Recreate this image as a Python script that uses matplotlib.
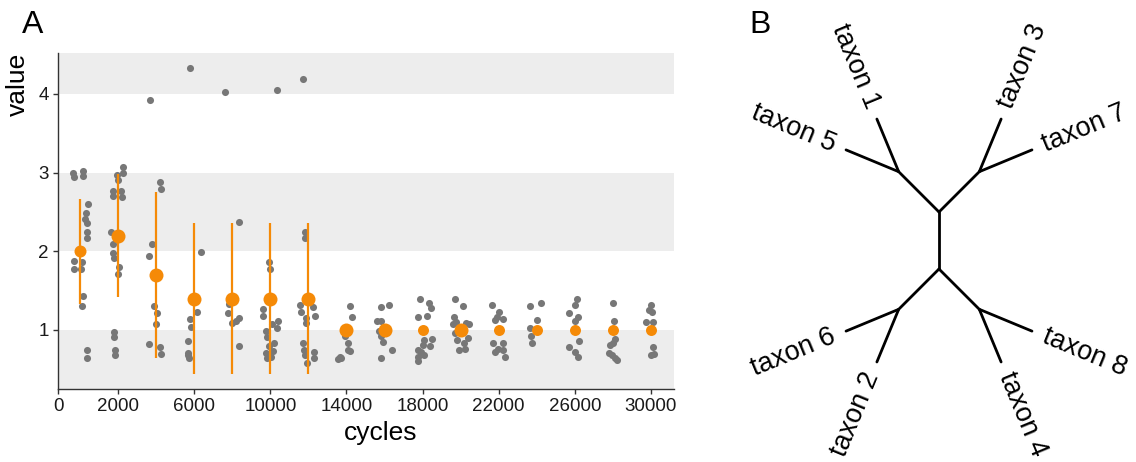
import numpy as np
import matplotlib
matplotlib.use("Agg")
import matplotlib.pyplot as plt

plt.rcParams['font.family'] = ['Liberation Sans', 'DejaVu Sans']

# ---- panel A data ----
cycles = [0, 2000, 4000, 6000, 8000, 10000, 12000, 14000, 16000,
          18000, 20000, 22000, 24000, 26000, 28000, 30000]
tick_labels = ["0", "2000", "6000", "10000", "14000", "18000", "22000", "26000", "30000"]
tick_values = [2000, 6000, 10000, 14000, 18000, 22000, 26000, 30000]

means = [2.0, 2.2, 1.7, 1.4, 1.4, 1.4, 1.4, 1.0, 1.0, 1.0, 1.0, 1.0, 1.0, 1.0, 1.0, 1.0]
err_low = [1.33, 1.42, 0.64, 0.44, 0.44, 0.44, 0.44] + [np.nan] * 9
err_high = [2.67, 2.98, 2.75, 2.36, 2.36, 2.36, 2.36] + [np.nan] * 9
mean_weight = [12, 14, 14, 14, 14, 14, 14, 14, 14, 11, 14, 11, 11, 11, 11, 11]

# replicate values per group, with the horizontal jitter (in cycles)
rep_values = [
    [2.99, 2.94, 3.02, 2.96, 2.60, 2.49, 2.41, 2.36, 2.25, 2.17, 1.88, 1.78, 1.86, 1.78, 1.43, 1.30, 0.74, 0.65],
    [3.07, 3.00, 2.97, 2.90, 2.77, 2.70, 2.77, 2.69, 2.25, 2.09, 1.98, 1.91, 1.80, 1.71, 0.98, 0.91, 0.75, 0.68],
    [3.92, 2.88, 2.79, 2.09, 1.94, 1.31, 1.22, 1.07, 0.82, 0.79, 0.69],
    [4.33, 1.99, 1.23, 1.14, 1.04, 0.86, 0.71, 0.68, 0.64],
    [4.02, 2.37, 1.33, 1.22, 1.09, 1.11, 1.15, 0.80],
    [4.05, 1.86, 1.78, 1.27, 1.18, 1.12, 1.07, 1.03, 0.99, 0.91, 0.83, 0.80, 0.71, 0.73, 0.64, 0.66],
    [4.19, 2.24, 2.17, 1.32, 1.23, 1.29, 1.18, 1.15, 1.09, 0.84, 0.75, 0.68, 0.72, 0.65, 0.58],
    [1.30, 1.16, 0.92, 0.84, 0.75, 0.73, 0.66, 0.64, 0.63],
    [1.29, 1.32, 1.12, 1.12, 0.99, 0.92, 0.85, 0.75, 0.65],
    [1.39, 1.34, 1.28, 1.18, 1.16, 0.87, 0.89, 0.81, 0.80, 0.75, 0.72, 0.66, 0.61, 0.68],
    [1.39, 1.30, 1.17, 1.10, 1.09, 1.08, 1.08, 0.96, 0.87, 0.90, 0.83, 0.75, 0.76],
    [1.32, 1.23, 1.16, 1.13, 1.14, 0.83, 0.84, 0.72, 0.74, 0.66, 0.76],
    [1.30, 1.34, 1.13, 1.03, 0.92, 0.83],
    [1.39, 1.32, 1.22, 1.17, 1.11, 0.86, 0.78, 0.72, 0.66],
    [1.34, 1.11, 0.89, 0.83, 0.81, 0.71, 0.68, 0.65, 0.62],
    [1.32, 1.23, 1.25, 1.10, 1.10, 0.79, 0.68, 0.70],
]
rep_jitter = [
    [-370, -315, 160, 160, 420, 315, 265, 370, 370, 370, -315, -315, 105, 55, 160, 105, 370, 370],
    [265, 265, -55, 0, -265, -265, 160, 210, -370, -265, -265, -210, 55, 0, -210, -210, -160, -160],
    [-315, 210, 265, -210, -370, -105, 55, 0, -370, 210, 265],
    [-210, 370, 160, -210, -160, -315, -315, -315, -265],
    [-370, 370, -160, -210, 0, 210, 370, 370],
    [370, -55, 0, -370, -370, 420, 105, 370, -210, -160, 210, -55, -210, 160, -160, 55],
    [-265, -160, -160, -420, -370, 265, 370, -105, -105, -265, -210, -160, 315, 315, -55],
    [210, 315, -55, 55, 105, 210, -315, -265, -420],
    [-210, 210, -370, -210, -315, -160, -55, 370, -210],
    [-160, 315, 420, 210, -265, 55, 475, 0, 370, -265, -105, -265, -265, 55],
    [-315, 105, -370, -265, 265, 420, -420, -315, -210, 370, 160, -105, 210],
    [-370, 0, -105, -210, 210, -315, 210, -210, 210, 315, -55],
    [-370, 210, 0, -370, -315, -265],
    [105, 0, -315, 160, 0, 210, -315, 0, 160],
    [0, 55, 105, 0, -160, -210, -55, 105, 210],
    [0, 55, -105, -265, 105, 105, 0, 160],
]

# ---- panel B data: unrooted tree, all branches of unit length ----
tree_upper = (("taxon 7", "taxon 3"), ("taxon 1", "taxon 5"))
tree_lower = (("taxon 6", "taxon 2"), ("taxon 4", "taxon 8"))
central_edge = 1.0
branch_len = 1.0

GRAY = "#777777"
ORANGE = "#F58A07"
BAND = "#EDEDED"

fig = plt.figure(figsize=(11.36, 4.62), dpi=100)

# ---------------- panel A ----------------
ax = fig.add_axes([58 / 1136, 73 / 462, 616 / 1136, 336 / 462])
xmin, xmax = -1158, 31210
ymin, ymax = 0.25, 4.52
for lo, hi in [(ymin, 1), (2, 3), (4, ymax)]:
    ax.axhspan(lo, hi, color=BAND, lw=0, zorder=0)

for c, vals, jit in zip(cycles, rep_values, rep_jitter):
    ax.scatter(np.array(jit) + c, vals, s=26, color=GRAY, lw=0, zorder=2)

for c, m, lo, hi, w in zip(cycles, means, err_low, err_high, mean_weight):
    if not np.isnan(lo):
        ax.plot([c, c], [lo, hi], color=ORANGE, lw=1.6, zorder=3, solid_capstyle='butt')
    ax.plot(c, m, 'o', ms=w / 1.39, color=ORANGE, mec='none', zorder=4)

ax.set_xlim(xmin, xmax)
ax.set_ylim(ymin, ymax)
ax.set_xticks([xmin] + tick_values)
ax.set_xticklabels(tick_labels)
ax.set_yticks([1, 2, 3, 4])
ax.set_yticklabels(["1", "2", "3", "4"])
for s in ["top", "right"]:
    ax.spines[s].set_visible(False)
for s in ["left", "bottom"]:
    ax.spines[s].set_color("#333333")
    ax.spines[s].set_linewidth(1.0)
ax.tick_params(labelsize=13.5, length=3.5, width=1, color="#333333",
               labelcolor="#1a1a1a", pad=3)
ax.set_xlabel("cycles", fontsize=19)
ax.xaxis.set_label_coords(0.523, -0.095)
ax.set_ylabel("value", fontsize=19, loc="top")
ax.yaxis.set_label_coords(-0.045, 1.0)
fig.text(22 / 1136, 1 - 10 / 462, "A", fontsize=23, va="top", ha="left")

# ---------------- panel B ----------------
bx = fig.add_axes([0.6, 0.0, 0.4, 1.0])
unit = 57.0
bx.set_xlim((681.6 - 939) / unit, (1136 - 939) / unit)
bx.set_ylim(-221.5 / unit, 240.5 / unit)
bx.axis("off")


def n_leaves(node):
    return 1 if isinstance(node, str) else sum(n_leaves(ch) for ch in node)


def draw(node, x0, y0, lo, hi):
    ang = np.radians((lo + hi) / 2)
    x1, y1 = x0 + branch_len * np.cos(ang), y0 + branch_len * np.sin(ang)
    bx.plot([x0, x1], [y0, y1], color="black", lw=2, solid_capstyle="round")
    if isinstance(node, str):
        deg = np.degrees(ang) % 360
        gap = 0.22
        tx, ty = x1 + gap * np.cos(ang), y1 + gap * np.sin(ang)
        if 90 < deg < 270:
            rot, ha = deg - 180, "right"
        else:
            rot, ha = (deg + 180) % 360 - 180, "left"
        bx.text(tx, ty, node, rotation=rot, ha=ha, va="center",
                rotation_mode="anchor", fontsize=19.5)
        return
    split_children(node, x1, y1, lo, hi)


def split_children(node, x, y, lo, hi):
    total = n_leaves(node)
    start = lo
    for ch in node:
        span = (hi - lo) * n_leaves(ch) / total
        draw(ch, x, y, start, start + span)
        start += span


half = central_edge / 2
bx.plot([0, 0], [-half, half], color="black", lw=2, solid_capstyle="round")
split_children(tree_upper, 0, half, 0, 180)
split_children(tree_lower, 0, -half, 180, 360)
fig.text(749 / 1136, 1 - 10 / 462, "B", fontsize=23, va="top", ha="left")

fig.savefig("out.png", dpi=100)
